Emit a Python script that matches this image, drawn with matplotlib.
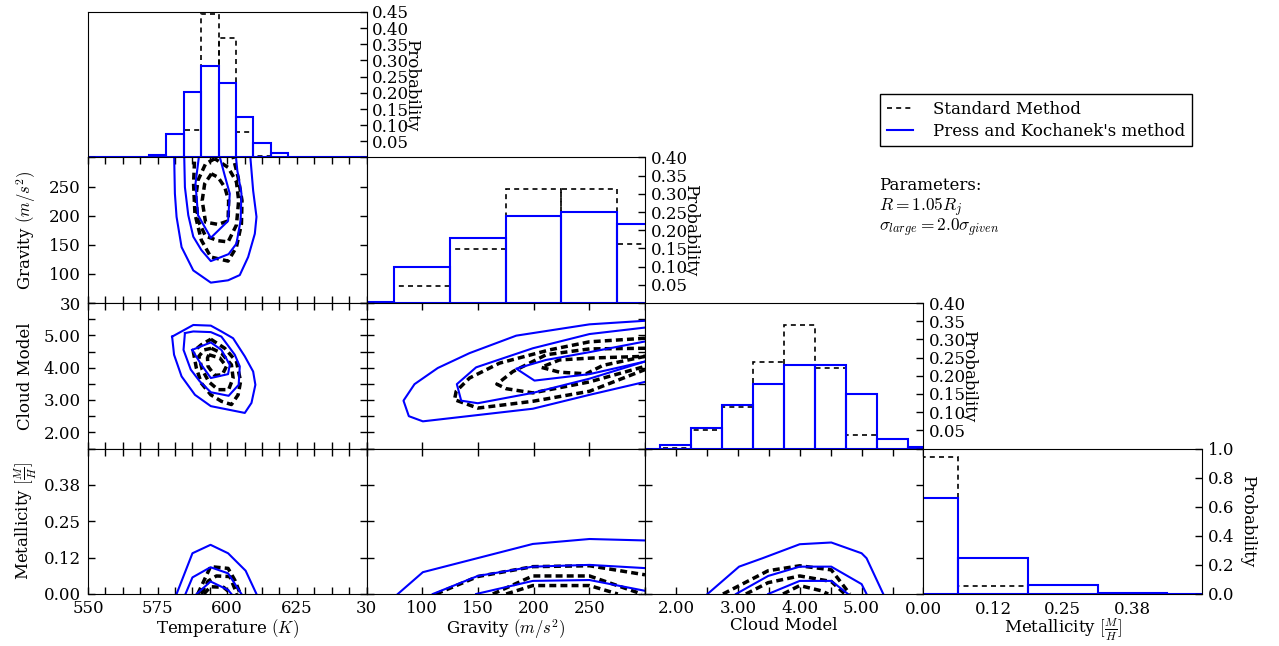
import matplotlib
matplotlib.use("Agg")
import matplotlib.pyplot as plt
from matplotlib.lines import Line2D

plt.rcParams["font.family"] = "DejaVu Serif"
plt.rcParams["mathtext.fontset"] = "cm"
plt.rcParams["font.size"] = 12

# parameter grids (bin centres)
temperature = [550, 556.25, 562.5, 568.75, 575, 581.25, 587.5, 593.75, 600,
               606.25, 612.5, 618.75, 625, 631.25, 637.5, 643.75, 650]
gravity = [50, 100, 150, 200, 250, 300]
cloud = [1.5, 2.0, 2.5, 3.0, 3.5, 4.0, 4.5, 5.0, 5.5, 6.0]
metallicity = [0.0, 0.125, 0.25, 0.375, 0.5]

temp_labels = ["550", "", "", "", "575", "", "", "", "600", "", "", "", "625", "", "", "", ""]
gravity_labels = ["30", "100", "150", "200", "250", ""]
cloud_labels = ["", "2.00", "", "3.00", "", "4.00", "", "5.00", "", ""]
metal_labels = ["0.00", "0.12", "0.25", "0.38", ""]

# marginal probabilities
temp_std = [0, 0, 0, 0, 0, 0.002, 0.086, 0.444, 0.371, 0.080, 0.006, 0, 0, 0, 0, 0, 0]
temp_pk = [0, 0, 0, 0, 0.009, 0.072, 0.203, 0.282, 0.231, 0.126, 0.046, 0.013, 0.003, 0, 0, 0, 0]
grav_std = [0, 0.047, 0.149, 0.314, 0.314, 0.163]
grav_pk = [0.003, 0.100, 0.179, 0.238, 0.251, 0.216]
cloud_std = [0, 0.002, 0.050, 0.114, 0.238, 0.339, 0.221, 0.038, 0, 0]
cloud_pk = [0, 0.009, 0.055, 0.120, 0.177, 0.230, 0.230, 0.151, 0.027, 0.003]
metal_std = [0.945, 0.053, 0.002, 0, 0]
metal_pk = [0.660, 0.248, 0.062, 0.009, 0.001]

# joint contours (1, 2, 3 sigma), x/y in parameter units
temp_grav_std = [
    [(588.4, 312), (587.9, 255), (588.4, 203), (590.7, 158), (594.1, 129), (600.3, 122),
     (603.3, 146), (605.1, 186), (605.3, 226), (603.9, 266), (601.5, 312)],
    [(595.5, 298), (592.2, 289), (589.5, 261), (588.7, 232), (589.5, 192), (592.2, 165),
     (596.7, 157), (600.3, 155), (603.3, 184), (604.1, 226), (603.3, 258), (600.3, 283), (595.5, 298)],
    [(594.3, 272), (591.9, 255), (591.0, 226), (592.2, 189), (596.7, 185), (600.3, 191),
     (600.5, 226), (599.1, 249), (596.7, 266), (594.3, 272)],
]
temp_grav_pk = [
    [(580.9, 312), (581.2, 238), (581.8, 198), (583.6, 146), (587.8, 106), (594.1, 85), (600.3, 89),
     (604.5, 98), (607.5, 129), (609.9, 169), (610.5, 198), (609.3, 243), (608.1, 312)],
    [(584.5, 312), (584.8, 249), (586.0, 201), (587.8, 164), (590.7, 141), (594.1, 122), (600.5, 134),
     (603.3, 152), (604.8, 192), (605.1, 238), (603.6, 278), (602.9, 312)],
    [(590.1, 312), (588.6, 255), (589.5, 201), (594.1, 162), (600.3, 191), (600.9, 238),
     (599.1, 269), (596.7, 312)],
]
temp_cloud_std = [
    [(594.1, 4.88), (599.1, 4.60), (603.3, 4.19), (604.8, 3.58), (603.9, 3.16), (601.5, 2.86),
     (597.9, 2.96), (594.1, 3.16), (590.7, 3.52), (588.9, 3.99), (587.8, 4.50), (590.7, 4.71), (594.1, 4.88)],
    [(594.3, 4.60), (597.9, 4.45), (601.5, 4.09), (602.1, 3.68), (600.5, 3.32), (596.7, 3.32),
     (593.4, 3.56), (591.0, 3.94), (589.8, 4.35), (591.7, 4.55), (594.3, 4.60)],
    [(593.4, 4.40), (597.3, 4.30), (599.7, 4.04), (598.2, 3.78), (595.5, 3.76), (593.1, 4.04),
     (592.9, 4.30), (593.4, 4.40)],
]
temp_cloud_pk = [
    [(580.2, 4.96), (580.9, 4.40), (583.6, 3.73), (588.4, 3.16), (594.1, 2.81), (606.3, 2.60),
     (608.7, 2.91), (610.1, 3.47), (609.3, 3.88), (606.3, 4.35), (602.1, 4.91), (597.9, 5.12),
     (594.1, 5.30), (587.8, 5.32), (580.2, 4.96)],
    [(584.8, 5.07), (584.3, 4.55), (586.9, 3.94), (590.1, 3.58), (594.1, 3.24), (600.5, 3.13),
     (604.1, 3.47), (604.5, 4.04), (602.7, 4.40), (597.9, 4.96), (594.1, 5.10), (587.8, 5.12), (584.8, 5.07)],
    [(587.4, 4.55), (590.7, 4.09), (594.1, 3.68), (600.3, 3.80), (600.9, 4.09), (597.9, 4.55),
     (594.1, 4.78), (587.4, 4.55)],
]
temp_metal_std = [
    [(589.4, 0), (594.0, 0.094), (600.3, 0.088), (602.7, 0.048), (604.7, 0)],
    [(590.7, 0), (593.1, 0.044), (596.1, 0.062), (600.9, 0.060), (603.5, 0)],
    [(591.6, 0), (594.0, 0.025), (598.7, 0.023), (601.5, 0)],
]
temp_metal_pk = [
    [(581.8, 0), (587.5, 0.140), (594.0, 0.169), (600.3, 0.140), (606.6, 0.080), (610.5, 0)],
    [(585.0, 0), (587.5, 0.057), (594.0, 0.092), (600.3, 0.071), (605.1, 0)],
    [(589.0, 0), (594.0, 0.043), (600.3, 0.014), (601.5, 0)],
]
grav_cloud_std = [
    [(300, 4.91), (250.2, 4.80), (214.3, 4.55), (169.4, 4.14), (142.5, 3.68), (130.5, 3.27),
     (129.0, 3.01), (149.9, 2.75), (199.3, 2.96), (250.2, 3.27), (300, 3.94)],
    [(300, 4.60), (250.2, 4.58), (211.3, 4.40), (181.4, 3.88), (167.0, 3.49), (175.4, 3.35),
     (199.3, 3.22), (250.2, 3.56), (300, 4.04)],
    [(300, 4.35), (262.2, 4.07), (247.2, 3.81), (223.3, 3.86), (206.8, 4.01), (223.3, 4.24),
     (253.2, 4.30), (300, 4.35)],
]
grav_cloud_pk = [
    [(300, 5.45), (250.2, 5.34), (184.4, 4.99), (142.5, 4.45), (114.0, 3.99), (93.1, 3.49),
     (83.2, 2.98), (88.0, 2.50), (100.6, 2.34), (199.3, 2.73), (250.2, 3.16), (300, 3.56)],
    [(300, 5.24), (250.2, 5.04), (199.3, 4.60), (148.4, 4.01), (131.1, 3.49), (135.0, 2.98),
     (149.9, 2.90), (199.3, 3.22), (250.2, 3.66), (300, 4.19)],
    [(300, 4.81), (250.2, 4.48), (211.3, 4.24), (184.4, 3.97), (200.8, 3.60), (250.2, 3.80), (300, 4.19)],
]
grav_metal_std = [
    [(112.5, 0), (149.9, 0.060), (199.3, 0.094), (250.2, 0.097), (300, 0.066)],
    [(163.4, 0), (199.3, 0.062), (250.2, 0.062), (297.0, 0)],
    [(175.4, 0), (199.3, 0.029), (250.2, 0.029), (275.6, 0)],
]
grav_metal_pk = [
    [(78.1, 0), (100.6, 0.075), (199.3, 0.172), (250.2, 0.189), (300, 0.184)],
    [(109.5, 0), (149.9, 0.062), (199.3, 0.094), (250.2, 0.100), (300, 0.089)],
    [(148.4, 0), (199.3, 0.045), (250.2, 0.048), (300, 0.011)],
]
cloud_metal_std = [
    [(2.76, 0), (3.49, 0.080), (4.0, 0.097), (4.51, 0.083), (4.81, 0)],
    [(3.13, 0), (3.49, 0.039), (4.0, 0.062), (4.51, 0.043), (4.73, 0)],
    [(3.73, 0), (4.0, 0.029), (4.35, 0.011), (4.46, 0)],
]
cloud_metal_pk = [
    [(2.51, 0), (3.02, 0.094), (3.40, 0.123), (4.0, 0.171), (4.51, 0.177), (5.0, 0.140),
     (5.08, 0.123), (5.35, 0)],
    [(2.97, 0), (3.49, 0.062), (4.0, 0.094), (4.51, 0.094), (5.0, 0.034), (5.08, 0)],
    [(3.49, 0), (4.0, 0.045), (4.51, 0.045), (4.78, 0)],
]

names = ["Temperature $(K)$", "Gravity $(m/s^2)$", "Cloud Model", r"Metallicity $[\frac{M}{H}]$"]
grids = [temperature, gravity, cloud, metallicity]
labels = [temp_labels, gravity_labels, cloud_labels, metal_labels]
hist_std = [temp_std, grav_std, cloud_std, metal_std]
hist_pk = [temp_pk, grav_pk, cloud_pk, metal_pk]
hist_top = [0.45, 0.40, 0.40, 1.0]
joint_std = {(1, 0): temp_grav_std, (2, 0): temp_cloud_std, (3, 0): temp_metal_std,
             (2, 1): grav_cloud_std, (3, 1): grav_metal_std, (3, 2): cloud_metal_std}
joint_pk = {(1, 0): temp_grav_pk, (2, 0): temp_cloud_pk, (3, 0): temp_metal_pk,
            (2, 1): grav_cloud_pk, (3, 1): grav_metal_pk, (3, 2): cloud_metal_pk}

std_style = dict(color="black", linestyle=(0, (2, 1.2)), linewidth=2.5)
pk_style = dict(color="blue", linestyle="-", linewidth=1.5)

fig = plt.figure(figsize=(12.79, 6.46), dpi=100)
left, top = 88 / 1279, 1 - 12 / 646
w, h = 278.5 / 1279, 145.5 / 646

for row in range(4):
    for col in range(row + 1):
        ax = fig.add_axes([left + col * w, top - (row + 1) * h, w, h])
        xs = grids[col]
        ax.set_xlim(xs[0], xs[-1])
        ax.set_xticks(xs)
        if row == 3:
            ax.set_xticklabels(labels[col])
            ax.set_xlabel(names[col])
            ax.xaxis.set_label_coords(0.5, -0.158)
        else:
            ax.set_xticklabels([])

        if row == col:
            step = xs[1] - xs[0]
            ax.bar(xs, hist_std[col], width=step, fill=False, edgecolor="black",
                   linestyle=(0, (3, 2.5)), linewidth=1.2)
            ax.bar(xs, hist_pk[col], width=step, fill=False, edgecolor="blue", linewidth=1.5)
            ax.set_xlim(xs[0], xs[-1])
            ax.set_ylim(0, hist_top[col])
            if col == 3:
                yt = [0.0, 0.2, 0.4, 0.6, 0.8, 1.0]
                ax.set_yticks(yt)
                ax.set_yticklabels(["%.1f" % v for v in yt])
            else:
                yt = [0.05 * (i + 1) for i in range(int(round(hist_top[col] / 0.05)))]
                ax.set_yticks(yt)
                ax.set_yticklabels(["%.2f" % v for v in yt])
            ax.yaxis.tick_right()
            ax.tick_params(axis="y", direction="in", length=5, width=1, pad=4)
            ax.tick_params(axis="x", length=0, pad=5)
            ax.yaxis.set_label_position("right")
            ax.set_ylabel("Probability", rotation=270, va="center")
            ax.yaxis.set_label_coords(1.162, 0.5)
        else:
            for path in joint_std[(row, col)]:
                px, py = zip(*path)
                ax.plot(px, py, **std_style)
            for path in joint_pk[(row, col)]:
                px, py = zip(*path)
                ax.plot(px, py, **pk_style)
            ys = grids[row]
            ax.set_xlim(xs[0], xs[-1])
            ax.set_ylim(ys[0], ys[-1])
            ax.set_yticks(ys)
            if col == 0:
                ax.set_yticklabels(labels[row])
                ax.set_ylabel(names[row], va="center")
                ax.yaxis.set_label_coords(-0.224, 0.5)
            else:
                ax.set_yticklabels([])
            ax.tick_params(direction="in", length=5, width=1, top=True, right=True, pad=5)
            ax.tick_params(axis="x", pad=4)

handles = [Line2D([], [], color="black", linestyle=(0, (3, 2.5)), linewidth=1.2),
           Line2D([], [], color="blue", linewidth=1.5)]
fig.legend(handles, ["Standard Method", "Press and Kochanek's method"],
           loc="upper left", bbox_to_anchor=(880 / 1279, 1 - 94 / 646), borderaxespad=0,
           fancybox=False, framealpha=1, edgecolor="black", handlelength=1.6,
           handletextpad=1.2, borderpad=0.4, labelspacing=0.3)

fig.text(879 / 1279, 1 - 185 / 646, "Parameters:", va="center", fontsize=12)
fig.text(879 / 1279, 1 - 207 / 646, "$R=1.05R_j$", va="center", fontsize=12.5)
fig.text(879 / 1279, 1 - 228 / 646, r"$\sigma_{large}=2.0\sigma_{given}$", va="center", fontsize=12.5)

fig.savefig("out.png", dpi=100)
